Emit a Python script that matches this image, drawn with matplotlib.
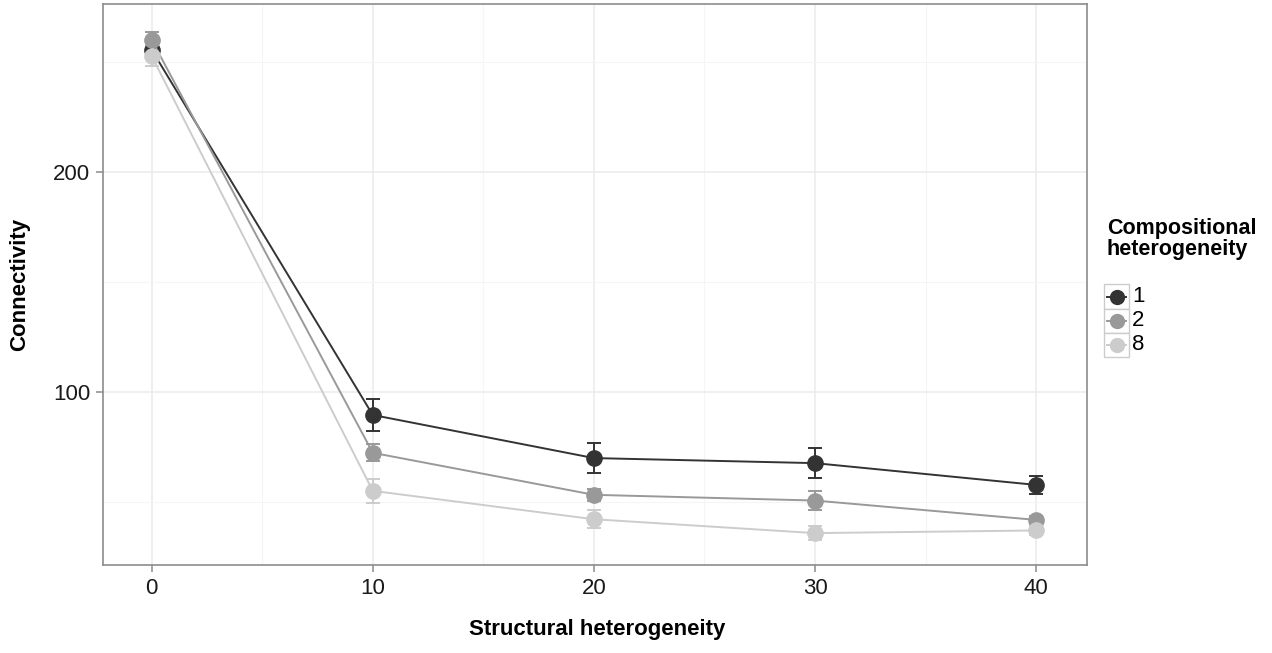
import matplotlib as mpl
mpl.use('Agg')
import matplotlib.pyplot as plt
from matplotlib.lines import Line2D
from matplotlib.patches import Rectangle
import numpy as np

plt.rcParams['font.family'] = ['Liberation Sans', 'DejaVu Sans']

# data
structural = [0, 10, 20, 30, 40]
groups = ['1', '2', '8']
conn_1 = [255.5, 89.5, 69.9, 67.6, 57.7]
err_1 = [3.0, 7.4, 6.8, 6.8, 3.9]
conn_2 = [260.0, 72.3, 53.2, 50.6, 41.8]
err_2 = [3.5, 3.9, 2.8, 4.5, 2.0]
conn_8 = [252.7, 55.0, 42.1, 35.8, 37.0]
err_8 = [4.5, 5.5, 4.1, 3.2, 2.0]
colors = ['#333333', '#999999', '#cccccc']

fig = plt.figure(figsize=(12.72, 6.53), dpi=100)
ax = fig.add_axes([103/1272, 1-565/653, (1087-103)/1272, (565-4)/653])

series = [(conn_1, err_1), (conn_2, err_2), (conn_8, err_8)]
for (y, e), c in zip(series, colors):
    ax.errorbar(structural, y, yerr=e, color=c, fmt='none', capsize=5,
                elinewidth=1.4, capthick=1.4, zorder=3)
    ax.plot(structural, y, color=c, lw=1.4, marker='o', ms=11, zorder=4)

ax.set_xlim(-2.2, 42.3)
ax.set_ylim(21.3, 276.3)
ax.set_xticks([0, 10, 20, 30, 40])
ax.set_yticks([100, 200])
ax.set_xticks([5, 15, 25, 35], minor=True)
ax.set_yticks([50, 150, 250], minor=True)
ax.grid(which='major', color='#ebebeb', lw=1.1, zorder=0)
ax.grid(which='minor', color='#f5f5f5', lw=0.8, zorder=0)
ax.set_axisbelow(True)
for s in ax.spines.values():
    s.set_color('#8c8c8c')
    s.set_linewidth(1.2)
ax.tick_params(which='major', length=5, width=1.1, color='#8c8c8c',
               labelsize=16, labelcolor='#1a1a1a', pad=4)
ax.tick_params(which='minor', length=0)

fig.text(597/1272, 1-630/653, 'Structural heterogeneity', ha='center', va='center',
         fontsize=16, fontweight='bold')
fig.text(20/1272, 1-284/653, 'Connectivity', ha='center', va='center',
         rotation=90, fontsize=16, fontweight='bold')

# legend
fig.text(1107/1272, 1-218/653, 'Compositional\nheterogeneity', ha='left', va='top',
         fontsize=15.5, fontweight='bold', linespacing=1.0)
rows = [284, 309, 333, 357]
for i, (g, c) in enumerate(zip(groups, colors)):
    top, bot = rows[i], rows[i+1]
    fig.add_artist(Rectangle((1104/1272, 1-bot/653), 25/1272, (bot-top)/653,
                             transform=fig.transFigure, fc='white', ec='#cccccc', lw=1.0))
    yc = 1-(top+bot)/2/653
    fig.add_artist(Line2D([1107/1272, 1126/1272], [yc, yc], transform=fig.transFigure,
                          color=c, lw=1.4))
    fig.add_artist(Line2D([1116.5/1272], [yc], transform=fig.transFigure, color=c,
                          marker='o', ms=10))
    fig.text(1132/1272, yc, g, ha='left', va='center', fontsize=16)

fig.savefig('out.png', dpi=100)
